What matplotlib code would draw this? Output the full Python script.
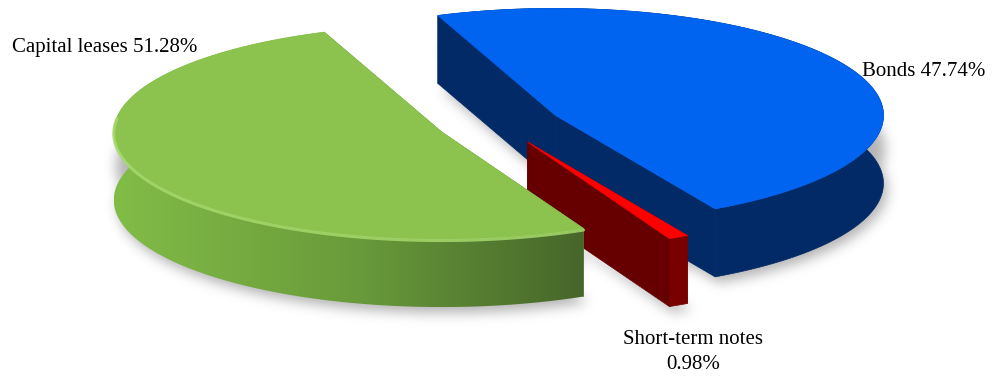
import numpy as np
import matplotlib
matplotlib.use("Agg")
import matplotlib.pyplot as plt
from matplotlib.patches import Polygon
from matplotlib.path import Path
from matplotlib.colors import LinearSegmentedColormap

# data
labels = ['Bonds', 'Short-term notes', 'Capital leases']
shares = [47.74, 0.98, 51.28]
top_colors = ['#0064F0', '#FF0000', '#8BC34E']
side_colors = ['#012A66', '#660000', '#5E8A34']
rim_colors = ['#012A66', '#7A0000', None]   # None -> gradient
label_pos = [(862, 76, 'left'), (693, 344, 'center'), (12, 52, 'left')]

# layout (pixel space of the 992x377 canvas)
W, H = 992, 377
CX, CY = 499, 124
RX, RY = 328, 107
DEPTH = 68
EXPLODE = 0.19
START = 111  # degrees, slices go clockwise


def slice_geometry(a0, a1):
    mid = np.radians((a0 + a1) / 2)
    ox = EXPLODE * RX * np.cos(mid)
    oy = -EXPLODE * RY * np.sin(mid)
    t = np.radians(np.linspace(a0, a1, 240))
    arc = np.column_stack([CX + ox + RX * np.cos(t), CY + oy - RY * np.sin(t)])
    apex = np.array([CX + ox, CY + oy])
    return apex, arc, t


def gauss_blur(img, sigma):
    r = int(3 * sigma)
    x = np.arange(-r, r + 1)
    k = np.exp(-x**2 / (2 * sigma**2))
    k /= k.sum()
    img = np.apply_along_axis(lambda v: np.convolve(v, k, mode='same'), 1, img)
    img = np.apply_along_axis(lambda v: np.convolve(v, k, mode='same'), 0, img)
    return img


fig = plt.figure(figsize=(W / 100, H / 100), dpi=100)
ax = fig.add_axes([0, 0, 1, 1])

# slice angles
angles = []
a0 = START
for s in shares:
    a1 = a0 - 360 * s / 100
    angles.append((a0, a1))
    a0 = a1

geoms = [slice_geometry(a0, a1) for a0, a1 in angles]
down = np.array([0, DEPTH])

# soft shadow on the ground
gx, gy = np.meshgrid(np.arange(W) + 0.5, np.arange(H) + 0.5)
pts = np.column_stack([gx.ravel(), gy.ravel()])
mask = np.zeros(H * W)
for apex, arc, t in geoms:
    poly = np.vstack([apex, arc])
    for shift in (np.array([4, DEPTH + 6]), np.array([2, DEPTH / 2])):
        mask = np.maximum(mask, Path(poly + shift).contains_points(pts))
mask = gauss_blur(mask.reshape(H, W).astype(float), 6)
shadow = np.zeros((H, W, 4))
shadow[..., :3] = 0.35
shadow[..., 3] = mask * 0.45
ax.imshow(shadow, extent=(0, W, H, 0), zorder=0, interpolation='bilinear')

green_cmap = LinearSegmentedColormap.from_list('gside', ['#82BC47', '#6A9C3B', '#46662A'])

z = 1
for i, (apex, arc, t) in enumerate(geoms):
    a0, a1 = np.radians(angles[i][0]), np.radians(angles[i][1])
    face0 = np.array([apex, arc[0], arc[0] + down, apex + down])
    face1 = np.array([apex, arc[-1], arc[-1] + down, apex + down])
    vis0 = np.cos(a0) < 0
    vis1 = np.cos(a1) > 0

    # hidden radial faces first
    for face, vis in ((face0, vis0), (face1, vis1)):
        if not vis:
            ax.add_patch(Polygon(face, closed=True, fc=side_colors[i], ec=side_colors[i], lw=0.5, zorder=z))
    z += 1

    # outer curved face
    band = np.vstack([arc, (arc + down)[::-1]])
    if rim_colors[i] is None:
        bp = Polygon(band, closed=True, fc='none', ec='none', zorder=z)
        ax.add_patch(bp)
        x_lo, x_hi = band[:, 0].min(), band[:, 0].max()
        y_lo, y_hi = band[:, 1].min(), band[:, 1].max()
        grad = np.linspace(0, 1, 256).reshape(1, -1)
        im = ax.imshow(grad, cmap=green_cmap, extent=(x_lo, x_hi, y_hi, y_lo),
                       aspect='auto', zorder=z, interpolation='bilinear')
        im.set_clip_path(bp)
    else:
        ax.add_patch(Polygon(band, closed=True, fc=rim_colors[i], ec=rim_colors[i], lw=0.5, zorder=z))
    z += 1

    # visible radial faces
    for face, vis in ((face0, vis0), (face1, vis1)):
        if vis:
            ax.add_patch(Polygon(face, closed=True, fc=side_colors[i], ec=side_colors[i], lw=0.5, zorder=z))
    z += 1

    # top surface
    top = np.vstack([apex, arc])
    ax.add_patch(Polygon(top, closed=True, fc=top_colors[i], ec=top_colors[i], lw=0.5, zorder=z))
    z += 1

    # light bevel on the front rim of the green slice
    if rim_colors[i] is None:
        front = np.sin(t) < 0.15
        ax.plot(arc[front, 0], arc[front, 1] + 1.5, color='#A6D96C', lw=2.2, alpha=0.85,
                solid_capstyle='round', zorder=z)
        z += 1

# labels
for i, (px, py, ha) in enumerate(label_pos):
    if ha == 'center':
        ax.text(px, py, labels[i], ha='center', va='baseline', fontsize=15,
                family='Liberation Serif', color='black', zorder=z)
        ax.text(px, py + 25, f'{shares[i]:.2f}%', ha='center', va='baseline', fontsize=15,
                family='Liberation Serif', color='black', zorder=z)
    else:
        ax.text(px, py, f'{labels[i]} {shares[i]:.2f}%', ha=ha, va='baseline', fontsize=15,
                family='Liberation Serif', color='black', zorder=z)

ax.set_xlim(0, W)
ax.set_ylim(H, 0)
ax.set_aspect('auto')
ax.axis('off')

fig.savefig('out.png', dpi=100, facecolor='white')
